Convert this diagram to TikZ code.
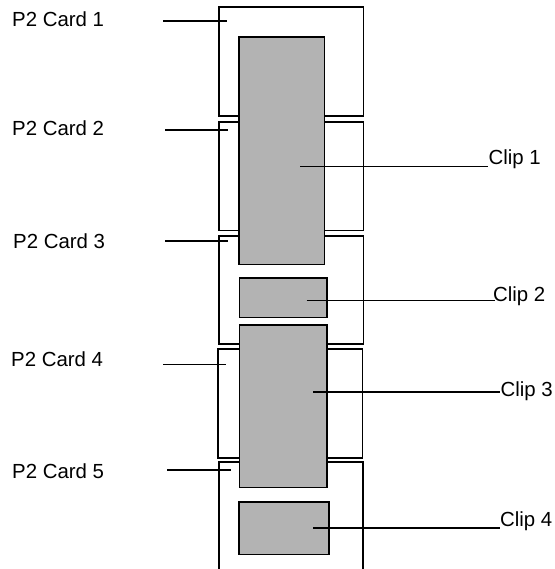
\documentclass[tikz,border=0pt]{standalone}
\usepackage{fontspec}
\setmainfont{Liberation Sans}
\definecolor{clipgray}{RGB}{179,179,179}
\begin{document}
\begin{tikzpicture}[x=1pt,y=-1pt,
  card/.style={draw, line width=1.6pt, minimum width=144.5pt, anchor=north west, inner sep=0pt},
  clipbox/.style={draw, fill=clipgray, line width=1.6pt, anchor=north west, inner sep=0pt},
  lbl/.style={font=\fontsize{20.4}{24}\selectfont, inner sep=0pt, anchor=base west},
  leader/.style={line width=1.5pt}]
\useasboundingbox (0,0) rectangle (554,569);
% cards
\node[card, minimum height=109pt] (card1) at (218,6) {};
\node[card, minimum height=108.5pt] (card2) at (218,121) {};
\node[card, minimum height=108pt] (card3) at (218,235) {};
\node[card, minimum height=109pt] (card4) at (217,348) {};
\coordinate (c5a) at (219,570);
\coordinate (c5b) at (219,462);
\coordinate (c5c) at (362.7,462);
\coordinate (c5d) at (362.7,570);
\draw[line width=1.6pt] (c5a) -- (c5b) -- (c5c) -- (c5d);
% clips
\node[clipbox, minimum width=85.7pt, minimum height=227.6pt] (clip1) at (238,36) {};
\node[clipbox, minimum width=87.3pt, minimum height=39.7pt] (clip2) at (238.7,277) {};
\node[clipbox, minimum width=87.3pt, minimum height=162.7pt] (clip3) at (238.7,324) {};
\node[clipbox, minimum width=90pt, minimum height=52.7pt] (clip4) at (238,501) {};
% labels
\node[lbl] (l1) at (12,26.7) {P2 Card 1};
\node[lbl] (l2) at (12,135.2) {P2 Card 2};
\node[lbl] (l3) at (13,248.4) {P2 Card 3};
\node[lbl] (l4) at (11,366.7) {P2 Card 4};
\node[lbl] (l5) at (12,478.8) {P2 Card 5};
\node[lbl] (k1) at (488.5,165) {Clip 1};
\node[lbl] (k2) at (493,301.7) {Clip 2};
\node[lbl] (k3) at (500.5,396.7) {Clip 3};
\node[lbl] (k4) at (500,526.7) {Clip 4};
% leader end points
\coordinate (a1) at (163.3,21);   \coordinate (b1) at (226.7,21);
\coordinate (a2) at (165,130);    \coordinate (b2) at (228,130);
\coordinate (a3) at (165,241);    \coordinate (b3) at (228,241);
\coordinate (a4) at (163.3,364.7);\coordinate (b4) at (226,364.7);
\coordinate (a5) at (167.3,470);  \coordinate (b5) at (230.7,470);
\coordinate (p1) at (300,166.7);  \coordinate (q1) at (488.3,166.7);
\coordinate (p2) at (306.7,300.7);\coordinate (q2) at (495,300.7);
\coordinate (p3) at (313.3,392);  \coordinate (q3) at (500,392);
\coordinate (p4) at (313.3,528);  \coordinate (q4) at (500,528);
\foreach \i in {1,...,5} {\draw[leader] (a\i) -- (b\i);}
\foreach \i in {1,...,4} {\draw[leader] (p\i) -- (q\i);}
\end{tikzpicture}
\end{document}
